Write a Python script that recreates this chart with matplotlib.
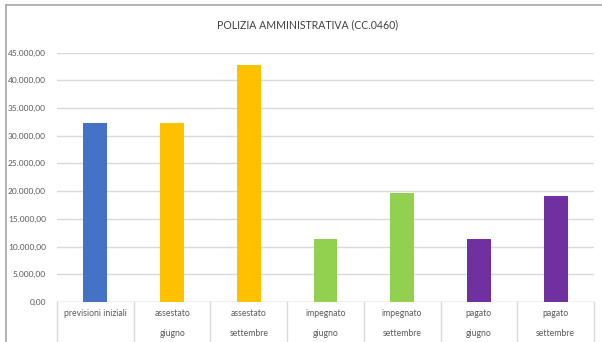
import matplotlib.pyplot as plt
from matplotlib import font_manager

categorie = ["previsioni iniziali", "assestato\ngiugno", "assestato\nsettembre",
             "impegnato\ngiugno", "impegnato\nsettembre", "pagato\ngiugno", "pagato\nsettembre"]
valori = [32200, 32200, 42700, 11350, 19650, 11350, 19100]
colori = ["#4472c4", "#ffc000", "#ffc000", "#92d050", "#92d050", "#7030a0", "#7030a0"]
y_ticks = [0, 5000, 10000, 15000, 20000, 25000, 30000, 35000, 40000, 45000]


def fmt_it(v):
    s = f"{v:,.2f}"
    return s.replace(",", "X").replace(".", ",").replace("X", ".")


def main():
    nomi = {f.name for f in font_manager.fontManager.ttflist}
    narrow = 'Liberation Sans Narrow' in nomi
    print("narrow:", narrow)
    plt.rcParams['font.family'] = ['Lato', 'DejaVu Sans']
    W, H = 602, 342
    fig = plt.figure(figsize=(W / 100, H / 100), dpi=100)

    # cornice del grafico (solo lato sinistro e superiore visibili)
    fig.add_artist(plt.Line2D([6 / W, 6 / W], [0, 1 - 5 / H], transform=fig.transFigure,
                              color="#a6a6a6", linewidth=1.2))
    fig.add_artist(plt.Line2D([6 / W, 1], [1 - 5 / H, 1 - 5 / H], transform=fig.transFigure,
                              color="#a6a6a6", linewidth=1.2))

    ax = fig.add_axes([57 / W, (H - 302) / H, 537 / W, 249.5 / H])
    x = range(len(categorie))
    ax.bar(x, valori, width=0.31, color=colori, zorder=3)

    ax.set_xlim(-0.5, len(categorie) - 0.5)
    ax.set_ylim(0, 45000)
    ax.set_yticks(y_ticks)
    ax.set_yticklabels([fmt_it(v) for v in y_ticks])
    ax.tick_params(axis='y', length=0, pad=8, labelsize=6.6 if narrow else 6,
                   labelcolor="#595959")
    if narrow:
        for t in ax.get_yticklabels():
            t.set_family(['Liberation Sans Narrow', 'DejaVu Sans'])
    ax.set_xticks([])
    ax.grid(axis='y', color="#d9d9d9", linewidth=1.0, zorder=0)
    for s in ax.spines.values():
        s.set_visible(False)
    ax.axhline(0, color="#d9d9d9", linewidth=1.0, zorder=2)

    # tabella etichette sotto l'asse
    n = len(categorie)
    for i in range(n + 1):
        xs = i / n
        ax.plot([xs, xs], [0, -0.17], transform=ax.transAxes, color="#d9d9d9",
                linewidth=1.0, clip_on=False)
    for i, lab in enumerate(categorie):
        for j, r in enumerate(lab.split("\n")):
            ax.text(i, -2000 - j * 3600, r, ha='center', va='center', fontsize=6.2,
                    color="#595959")

    fig.text(308 / W, 1 - 25 / H, "POLIZIA AMMINISTRATIVA (CC.0460)",
             ha='center', va='center', fontsize=7.6, color="#404040")

    fig.savefig("out.png", dpi=100)


if __name__ == "__main__":
    main()
